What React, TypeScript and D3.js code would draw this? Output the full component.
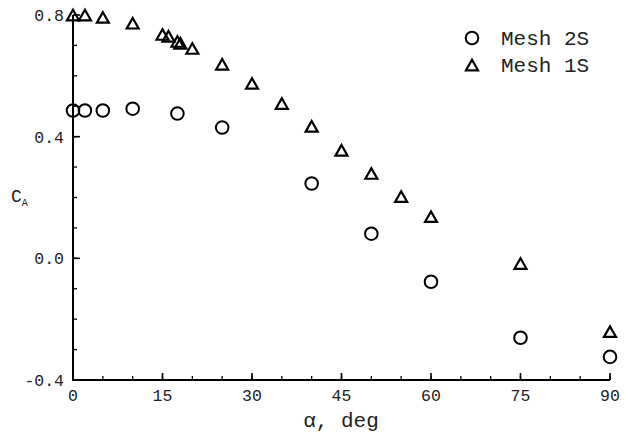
import React from 'react';
import * as d3 from 'd3';

// Data
const alphaMesh2S = [0, 2, 5, 10, 17.5, 25, 40, 50, 60, 75, 90];
const caMesh2S = [0.486, 0.486, 0.486, 0.492, 0.476, 0.43, 0.246, 0.081, -0.077, -0.261, -0.324];

const alphaMesh1S = [0, 2, 5, 10, 15, 16, 17.5, 18, 20, 25, 30, 35, 40, 45, 50, 55, 60, 75, 90];
const caMesh1S = [0.8, 0.8, 0.792, 0.773, 0.736, 0.73, 0.713, 0.707, 0.69, 0.638, 0.575, 0.509, 0.434, 0.355, 0.279, 0.203, 0.137, -0.017, -0.241];

const xMajorTicks = [0, 15, 30, 45, 60, 75, 90];
const xMinorTicks = d3.range(0, 91, 5);
const yMajorTicks = [-0.4, 0.0, 0.4, 0.8];
const yMinorTicks = d3.range(-4, 9, 1).map((d) => d / 10);
const yTickLabels = ['-0.4', '0.0', '0.4', '0.8'];

const legendLabels = ['Mesh 2S', 'Mesh 1S'];

const W = 633;
const H = 436;
const FONT = '"Liberation Mono", "DejaVu Sans Mono", monospace';

const x = d3.scaleLinear().domain([0, 90]).range([73, 610]);
const y = d3.scaleLinear().domain([-0.4, 0.8]).range([380, 15]);

const triPath = (cx: number, cy: number, s = 12) => {
  const h = s * 0.88;
  return `M${cx - s / 2},${cy + h / 2}L${cx},${cy - h / 2}L${cx + s / 2},${cy + h / 2}Z`;
};

export default function App() {
  const tickFont = 16.5;
  return (
    <div style={{ position: 'absolute', left: 0, top: 0 }}>
      <svg width={W} height={H} style={{ display: 'block', background: '#fff' }}>
        <rect width={W} height={H} fill="#fff" />
        {/* minor ticks */}
        {xMinorTicks.map((t) => (
          <line key={'xm' + t} x1={x(t)} x2={x(t)} y1={y(-0.4)} y2={y(-0.4) - 4} stroke="#000" strokeWidth={1.3} />
        ))}
        {xMajorTicks.map((t) => (
          <line key={'xM' + t} x1={x(t)} x2={x(t)} y1={y(-0.4)} y2={y(-0.4) - 7} stroke="#000" strokeWidth={1.6} />
        ))}
        {yMinorTicks.map((t) => (
          <line key={'ym' + t} x1={x(0)} x2={x(0) + 4} y1={y(t)} y2={y(t)} stroke="#000" strokeWidth={1.3} />
        ))}
        {yMajorTicks.map((t) => (
          <line key={'yM' + t} x1={x(0)} x2={x(0) + 7} y1={y(t)} y2={y(t)} stroke="#000" strokeWidth={1.6} />
        ))}
        {/* axis lines */}
        <line x1={x(0)} x2={x(0)} y1={y(0.8)} y2={y(-0.4) + 1} stroke="#000" strokeWidth={2} />
        <line x1={x(0) - 1} x2={x(90)} y1={y(-0.4)} y2={y(-0.4)} stroke="#000" strokeWidth={2} />

        {/* tick labels */}
        {xMajorTicks.map((t) => (
          <text key={'xl' + t} x={x(t)} y={401} textAnchor="middle" fontFamily={FONT} fontSize={tickFont} fill="#222">
            {String(t)}
          </text>
        ))}
        {yMajorTicks.map((t, i) => (
          <text key={'yl' + t} x={64} y={y(t) + 6} textAnchor="end" fontFamily={FONT} fontSize={tickFont} fill="#222">
            {yTickLabels[i]}
          </text>
        ))}

        {/* axis titles */}
        <text x={341} y={427} textAnchor="middle" fontFamily={FONT} fontSize={21} fill="#222">
          α, deg
        </text>
        <text x={11} y={202} fontFamily={FONT} fontSize={18} fill="#222">
          C
          <tspan fontSize={10} dy={4}>A</tspan>
        </text>

        {/* data */}
        {alphaMesh2S.map((a, i) => (
          <circle key={'c' + i} cx={x(a)} cy={y(caMesh2S[i])} r={6.3} fill="none" stroke="#000" strokeWidth={2} />
        ))}
        {alphaMesh1S.map((a, i) => (
          <path key={'t' + i} d={triPath(x(a), y(caMesh1S[i]))} fill="none" stroke="#000" strokeWidth={2.2} strokeLinejoin="miter" />
        ))}

        {/* legend */}
        <circle cx={472} cy={38} r={6.3} fill="none" stroke="#000" strokeWidth={2} />
        <text x={501} y={45} fontFamily={FONT} fontSize={21} fill="#222">{legendLabels[0]}</text>
        <path d={triPath(472, 65)} fill="none" stroke="#000" strokeWidth={2.2} />
        <text x={501} y={72} fontFamily={FONT} fontSize={21} fill="#222">{legendLabels[1]}</text>
      </svg>
    </div>
  );
}
